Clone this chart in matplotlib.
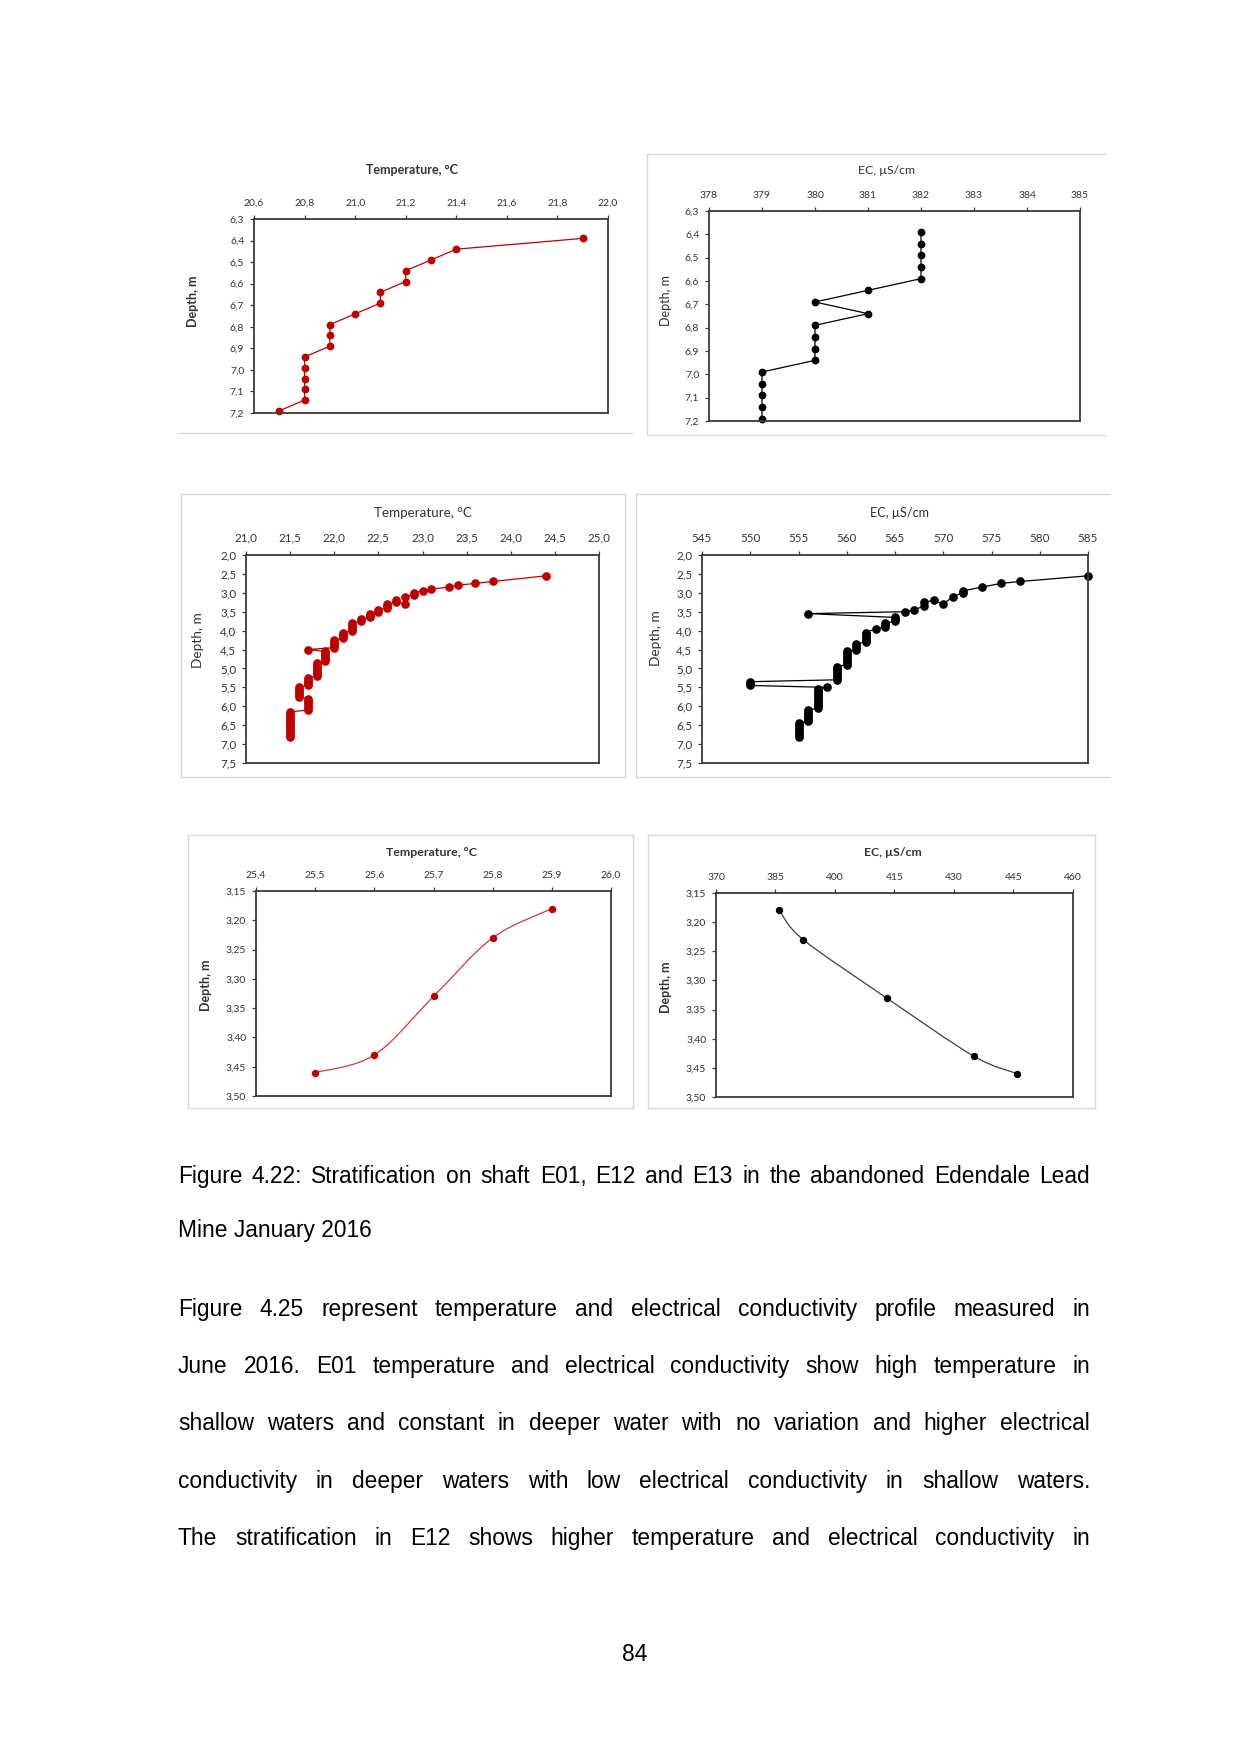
import matplotlib
matplotlib.use("Agg")
import matplotlib.pyplot as plt
from matplotlib.path import Path
from matplotlib.patches import PathPatch
from matplotlib.lines import Line2D
import numpy as np

W, H = 1241, 1754

# ---------------- data ----------------
# E01 (panel 1 & 2)
e01_depth = [6.39, 6.44, 6.49, 6.54, 6.59, 6.64, 6.69, 6.74, 6.79, 6.84, 6.89,
             6.94, 6.99, 7.04, 7.09, 7.14, 7.19]
e01_temp = [21.9, 21.4, 21.3, 21.2, 21.2, 21.1, 21.1, 21.0, 20.9, 20.9, 20.9,
            20.8, 20.8, 20.8, 20.8, 20.8, 20.7]
e01_ec = [382, 382, 382, 382, 382, 381, 380, 381, 380, 380, 380,
          380, 379, 379, 379, 379, 379]

# E12 (panel 3 & 4)
e12_temp_depth = [2.55, 2.70, 2.75, 2.80, 2.85, 2.90, 2.95, 3.00, 3.05, 3.10, 3.30, 3.20, 3.25,
                  3.30, 3.35, 3.40, 3.45, 3.50, 3.55, 3.60, 3.65, 3.70, 3.75,
                  3.80, 3.85, 3.90, 3.95, 4.00,
                  4.05, 4.10, 4.15, 4.20,
                  4.25, 4.30, 4.35, 4.40, 4.45,
                  4.50,
                  4.55, 4.60, 4.65, 4.70, 4.75, 4.80,
                  4.85, 4.90, 4.95, 5.00, 5.05, 5.10, 5.15, 5.20,
                  5.25, 5.30, 5.35, 5.40, 5.45,
                  5.50, 5.55, 5.60, 5.65, 5.70, 5.75,
                  5.80, 5.85, 5.90, 5.95, 6.00, 6.05, 6.10,
                  6.15, 6.20, 6.25, 6.30, 6.35, 6.40, 6.45, 6.50, 6.55, 6.60, 6.65, 6.70, 6.75, 6.80]
e12_temp = [24.4, 23.8, 23.6, 23.4, 23.3, 23.1, 23.0, 22.9, 22.9, 22.8, 22.8, 22.7, 22.7,
            22.6, 22.6, 22.6, 22.5, 22.5, 22.4, 22.4, 22.4, 22.3, 22.3,
            22.2, 22.2, 22.2, 22.2, 22.2,
            22.1, 22.1, 22.1, 22.1,
            22.0, 22.0, 22.0, 22.0, 22.0,
            21.7,
            21.9, 21.9, 21.9, 21.9, 21.9, 21.9,
            21.8, 21.8, 21.8, 21.8, 21.8, 21.8, 21.8, 21.8,
            21.7, 21.7, 21.7, 21.7, 21.7,
            21.6, 21.6, 21.6, 21.6, 21.6, 21.6,
            21.7, 21.7, 21.7, 21.7, 21.7, 21.7, 21.7,
            21.5, 21.5, 21.5, 21.5, 21.5, 21.5, 21.5, 21.5, 21.5, 21.5, 21.5, 21.5, 21.5, 21.5]

e12_ec_depth = [2.55, 2.70, 2.75, 2.85, 2.95, 3.00, 3.10, 3.30, 3.20, 3.25, 3.35, 3.45, 3.50, 3.55,
                3.65, 3.70, 3.75, 3.80, 3.85, 3.90, 3.95,
                4.05, 4.10, 4.15, 4.20, 4.25, 4.30,
                4.35, 4.40, 4.45, 4.50,
                4.55, 4.60, 4.65, 4.70, 4.75, 4.80, 4.85, 4.90,
                4.95, 5.00, 5.05, 5.10, 5.15, 5.20, 5.25, 5.30,
                5.35, 5.40, 5.45,
                5.50,
                5.55, 5.60, 5.65, 5.70, 5.75, 5.80, 5.85, 5.90, 5.95, 6.00, 6.05,
                6.10, 6.15, 6.20, 6.25, 6.30, 6.35, 6.40,
                6.45, 6.50, 6.55, 6.60, 6.65, 6.70, 6.75, 6.80]
e12_ec = [585, 578, 576, 574, 572, 572, 571, 570, 569, 568, 568, 567, 566, 556,
          565, 565, 565, 564, 564, 564, 563,
          562, 562, 562, 562, 562, 562,
          561, 561, 561, 561,
          560, 560, 560, 560, 560, 560, 560, 560,
          559, 559, 559, 559, 559, 559, 559, 559,
          550, 550, 550,
          558,
          557, 557, 557, 557, 557, 557, 557, 557, 557, 557, 557,
          556, 556, 556, 556, 556, 556, 556,
          555, 555, 555, 555, 555, 555, 555, 555]

# E13 (panel 5 & 6)
e13_depth = [3.18, 3.23, 3.33, 3.43, 3.46]
e13_temp = [25.9, 25.8, 25.7, 25.6, 25.5]
e13_ec = [386, 392, 413, 435, 446]

# axis ticks / labels
p1_xticks = [20.6, 20.8, 21.0, 21.2, 21.4, 21.6, 21.8, 22.0]
p1_yticks = [6.3, 6.4, 6.5, 6.6, 6.7, 6.8, 6.9, 7.0, 7.1, 7.2]
p2_xticks = [378, 379, 380, 381, 382, 383, 384, 385]
p3_xticks = [21.0, 21.5, 22.0, 22.5, 23.0, 23.5, 24.0, 24.5, 25.0]
p3_yticks = [2.0, 2.5, 3.0, 3.5, 4.0, 4.5, 5.0, 5.5, 6.0, 6.5, 7.0, 7.5]
p4_xticks = [545, 550, 555, 560, 565, 570, 575, 580, 585]
p5_xticks = [25.4, 25.5, 25.6, 25.7, 25.8, 25.9, 26.0]
p5_yticks = [3.15, 3.20, 3.25, 3.30, 3.35, 3.40, 3.45, 3.50]
p6_xticks = [370, 385, 400, 415, 430, 445, 460]

temp_title = "Temperature, °C"
ec_title = "EC, µS/cm"
ylab = "Depth, m"

caption_lines = [
    ("Figure 4.22: Stratification on shaft E01, E12 and E13 in the abandoned Edendale Lead", True),
    ("Mine January 2016", False),
]
para_lines = [
    ("Figure 4.25 represent temperature and electrical conductivity profile measured in", True),
    ("June 2016. E01 temperature and electrical conductivity show high temperature in", True),
    ("shallow waters and constant in deeper water with no variation and higher electrical", True),
    ("conductivity in deeper waters with low electrical conductivity in shallow waters.", True),
    ("The stratification in E12 shows higher temperature and electrical conductivity in", True),
]
page_number = "84"

# ---------------- layout helpers ----------------
CHART_FONT = ["Lato", "DejaVu Sans"]
TEXT_FONT = ["Liberation Sans", "DejaVu Sans"]
RED = "#C00000"
AXC = "#3a3a3a"
FRAME = "#d9d9d9"

fig = plt.figure(figsize=(W / 100, H / 100), dpi=100)
fig.patch.set_facecolor("white")


def fy(y):
    return 1 - y / H


def add_ax(L, T, R, B):
    return fig.add_axes([L / W, 1 - B / H, (R - L) / W, (B - T) / H])


def fmt(v, dec):
    return f"{v:.{dec}f}".replace(".", ",")


def style_ax(ax, xticks, xdec, yticks, ydec, fs):
    ax.set_xlim(xticks[0], xticks[-1])
    ax.set_ylim(yticks[-1], yticks[0])
    ax.xaxis.tick_top()
    ax.set_xticks(xticks)
    ax.set_xticklabels([fmt(v, xdec) for v in xticks])
    ax.set_yticks(yticks)
    ax.set_yticklabels([fmt(v, ydec) for v in yticks])
    ax.tick_params(axis="both", direction="out", length=3, width=0.9, color=AXC,
                   labelsize=fs, labelcolor="#333333", pad=4)
    ax.tick_params(axis="x", pad=5)
    for lab in ax.get_xticklabels() + ax.get_yticklabels():
        lab.set_family(CHART_FONT)
    for s in ax.spines.values():
        s.set_color(AXC)
        s.set_linewidth(1.3)
    ax.set_facecolor("white")


def smooth_path(xs, ys):
    pts = np.column_stack([xs, ys]).astype(float)
    n = len(pts)
    verts = [pts[0]]
    codes = [Path.MOVETO]
    for i in range(n - 1):
        p0 = pts[i - 1] if i > 0 else pts[i]
        p1 = pts[i]
        p2 = pts[i + 1]
        p3 = pts[i + 2] if i + 2 < n else pts[i + 1]
        c1 = p1 + (p2 - p0) / 6.0
        c2 = p2 - (p3 - p1) / 6.0
        verts += [c1, c2, p2]
        codes += [Path.CURVE4] * 3
    return Path(verts, codes)


def frame(L, T, R, B, sides="ltrb"):
    segs = {"l": ([L, L], [T, B]), "r": ([R, R], [T, B]),
            "t": ([L, R], [T, T]), "b": ([L, R], [B, B])}
    for s in sides:
        xs, ys = segs[s]
        fig.add_artist(Line2D([x / W for x in xs], [fy(y) for y in ys],
                              color=FRAME, lw=1.0, transform=fig.transFigure))


def titles(cx, cy, text, tfs, bold_t, yl_x, yl_cy, yfs, bold_y):
    fig.text(cx / W, fy(cy), text, ha="center", va="center", fontsize=tfs,
             family=CHART_FONT, color="#333333", fontweight="bold" if bold_t else "normal")
    fig.text(yl_x / W, fy(yl_cy), ylab, ha="center", va="center", rotation=90,
             fontsize=yfs, family=CHART_FONT, color="#333333",
             fontweight="bold" if bold_y else "normal")


# ---------------- chart frames ----------------
frame(178, 155, 632, 433, "b")
frame(647, 154, 1105, 435, "ltb")
frame(181, 494, 625, 777, "ltrb")
frame(636, 494, 1110, 777, "ltb")
frame(188, 835, 633, 1108, "ltrb")
frame(648, 835, 1095, 1108, "ltrb")

# ---------------- panel 1 ----------------
ax1 = add_ax(254, 219, 608, 413)
style_ax(ax1, p1_xticks, 1, p1_yticks, 1, 7.5)
ax1.plot(e01_temp, e01_depth, color=RED, lw=0.9, marker="o", ms=4.6, mec=RED, mfc=RED, clip_on=False)
titles(412, 170, temp_title, 9.0, True, 193, 301, 9.0, True)

# ---------------- panel 2 ----------------
ax2 = add_ax(709, 211, 1080, 421)
style_ax(ax2, p2_xticks, 0, p1_yticks, 1, 7.5)
ax2.plot(e01_ec, e01_depth, color="black", lw=0.9, marker="o", ms=4.6, mec="black", mfc="black", clip_on=False)
titles(886, 171, ec_title, 8.8, False, 666, 300, 9.0, False)

# ---------------- panel 3 ----------------
ax3 = add_ax(246, 555, 599, 763)
style_ax(ax3, p3_xticks, 1, p3_yticks, 1, 8.4)
ax3.plot(e12_temp, e12_temp_depth, color=RED, lw=0.9, marker="o", ms=5.2,
         mec=RED, mfc=RED, clip_on=False)
titles(423, 513, temp_title, 9.6, False, 198, 640, 9.8, False)

# ---------------- panel 4 ----------------
ax4 = add_ax(702, 555, 1088, 763)
style_ax(ax4, p4_xticks, 0, p3_yticks, 1, 8.4)
ax4.plot(e12_ec, e12_ec_depth, color="black", lw=0.9, marker="o", ms=5.2,
         mec="black", mfc="black", clip_on=False)
titles(899, 513, ec_title, 9.1, False, 656, 638, 9.8, False)

# ---------------- panel 5 ----------------
ax5 = add_ax(256, 891, 611, 1096)
style_ax(ax5, p5_xticks, 1, p5_yticks, 2, 7.5)
ax5.add_patch(PathPatch(smooth_path(e13_temp, e13_depth), facecolor="none",
                        edgecolor="#d03a3a", lw=0.9, zorder=2))
ax5.plot(e13_temp, e13_depth, ls="none", marker="o", ms=4.3, mec=RED, mfc=RED, zorder=3, clip_on=False)
titles(431, 853, temp_title, 8.9, True, 206, 985, 9.0, True)

# ---------------- panel 6 ----------------
ax6 = add_ax(716, 893, 1073, 1097)
style_ax(ax6, p6_xticks, 0, p5_yticks, 2, 7.5)
ax6.add_patch(PathPatch(smooth_path(e13_ec, e13_depth), facecolor="none",
                        edgecolor="#404040", lw=0.9, zorder=2))
ax6.plot(e13_ec, e13_depth, ls="none", marker="o", ms=4.3, mec="black", mfc="black", zorder=3, clip_on=False)
titles(893, 853, ec_title, 8.8, True, 666, 987, 9.0, True)

# ---------------- page text ----------------
renderer = fig.canvas.get_renderer()
TFS = 16.4
X0, X1 = 178, 1090


def draw_line(text, y_base, justify):
    kw = dict(fontsize=TFS, family=TEXT_FONT, color="black", va="baseline", ha="left")
    if not justify:
        fig.text(X0 / W, fy(y_base), text, **kw)
        return
    words = text.split()
    arts = [fig.text(0, 0, w, **kw) for w in words]
    widths = [a.get_window_extent(renderer).width for a in arts]
    gap = (X1 - X0 - sum(widths)) / (len(words) - 1)
    x = X0
    for a, w in zip(arts, widths):
        a.set_position((x / W, fy(y_base)))
        x += w + gap


cap_y = [1183, 1237]
for (t, j), y in zip(caption_lines, cap_y):
    draw_line(t, y, j)
par_y = [1316, 1373, 1430, 1488, 1545]
for (t, j), y in zip(para_lines, par_y):
    draw_line(t, y, j)

fig.text(635 / W, fy(1661), page_number, ha="center", va="baseline",
         fontsize=TFS, family=TEXT_FONT, color="black")

fig.savefig("out.png", dpi=100, facecolor="white")
